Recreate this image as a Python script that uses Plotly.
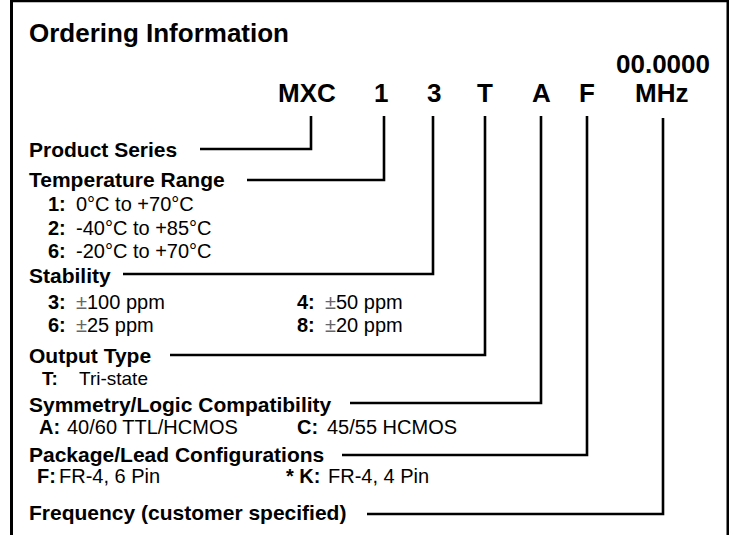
import plotly.graph_objects as go

# ---------------- content ----------------
title_text = "Ordering Information"
freq_placeholder = "00.0000"
code_labels = ["MXC", "1", "3", "T", "A", "F", "MHz"]
header_labels = [
    "Product Series",
    "Temperature Range",
    "Stability",
    "Output Type",
    "Symmetry/Logic Compatibility",
    "Package/Lead Configurations",
    "Frequency (customer specified)",
]
# option rows: (key, description)
temp_options = [("1:", "0°C to +70°C"), ("2:", "-40°C to +85°C"), ("6:", "-20°C to +70°C")]
stab_options_left = [("3:", "±100 ppm"), ("6:", "±25 ppm")]
stab_options_right = [("4:", "±50 ppm"), ("8:", "±20 ppm")]
output_options = [("T:", "Tri-state")]
sym_options = [("A:", "40/60 TTL/HCMOS"), ("C:", "45/55 HCMOS")]
pkg_options = [("F:", "FR-4, 6 Pin"), ("* K:", "FR-4, 4 Pin")]

# ---------------- layout geometry (pixels) ----------------
W, H = 729, 535
FONT = "Liberation Sans, Arial, Helvetica, sans-serif"
code_x = [307, 381, 434, 485, 541, 587, 661]
line_x = [311, 384, 433, 485, 541, 587, 663]
line_top = [116, 116, 116, 116, 116, 116, 118]
header_y = [149.5, 179, 275, 355, 404, 454, 512]
line_y = [149, 180, 274, 355, 403, 455, 514]
line_start = [200, 247, 123, 170, 350, 342, 367]

fig = go.Figure()

annotations = []


def txt(x, y, s, size, xanchor="left", bold=False):
    annotations.append(dict(
        x=x, y=y, xref="x", yref="y", text=("<b>%s</b>" % s) if bold else s,
        showarrow=False, xanchor=xanchor, yanchor="middle",
        font=dict(family=FONT, size=size, color="black"),
    ))


def pm(s):
    return s.replace("±", "<span style='color:#666'>±</span>")


# title and code row
txt(27, 32.5, title_text, 26, bold=True)
txt(712, 63.5, freq_placeholder, 26, xanchor="right", bold=True)
for lbl, cx in zip(code_labels, code_x):
    txt(cx, 92.5, lbl, 26, xanchor="center", bold=True)

# headers
for lbl, hy in zip(header_labels, header_y):
    txt(27, hy, lbl, 21, bold=True)

# option rows
for (k, v), yy in zip(temp_options, [204, 227.5, 251]):
    txt(46, yy, k, 20, bold=True)
    txt(74, yy, v, 20)
for (k, v), yy in zip(stab_options_left, [301.5, 325]):
    txt(46, yy, k, 20, bold=True)
    txt(74, yy, pm(v), 20)
for (k, v), yy in zip(stab_options_right, [301.5, 325]):
    txt(295, yy, k, 20, bold=True)
    txt(323, yy, pm(v), 20)
for (k, v) in output_options:
    txt(40, 378, k, 19, bold=True)
    txt(77, 378, v, 19)
txt(37, 427, sym_options[0][0], 20, bold=True)
txt(65, 427, sym_options[0][1], 20)
txt(295, 427, sym_options[1][0], 20, bold=True)
txt(325, 427, sym_options[1][1], 20)
txt(35, 476, pkg_options[0][0], 20, bold=True)
txt(57, 476, pkg_options[0][1], 20)
txt(322, 476, pkg_options[1][0], 20, xanchor="right", bold=True)
txt(326, 476, pkg_options[1][1], 20)

# connector lines (elbows)
for xs, yl, xl, yt in zip(line_start, line_y, line_x, line_top):
    fig.add_trace(go.Scatter(
        x=[xs, xl, xl], y=[yl, yl, yt], mode="lines",
        line=dict(color="black", width=2.6), hoverinfo="skip", showlegend=False,
    ))

shapes = [dict(type="rect", xref="x", yref="y", x0=11.5, x1=728, y0=0.8, y1=560,
               line=dict(color="black", width=3), fillcolor="rgba(0,0,0,0)")]

fig.update_layout(
    width=W, height=H, autosize=False,
    margin=dict(l=0, r=0, t=0, b=0, pad=0),
    paper_bgcolor="white", plot_bgcolor="white",
    xaxis=dict(range=[0, W], visible=False, fixedrange=True),
    yaxis=dict(range=[H, 0], visible=False, fixedrange=True),
    annotations=annotations, shapes=shapes, showlegend=False,
)

fig.write_html(
    "out.html",
    config={"displayModeBar": False},
    post_script="document.body.style.margin='0';document.body.style.overflow='hidden';",
)
